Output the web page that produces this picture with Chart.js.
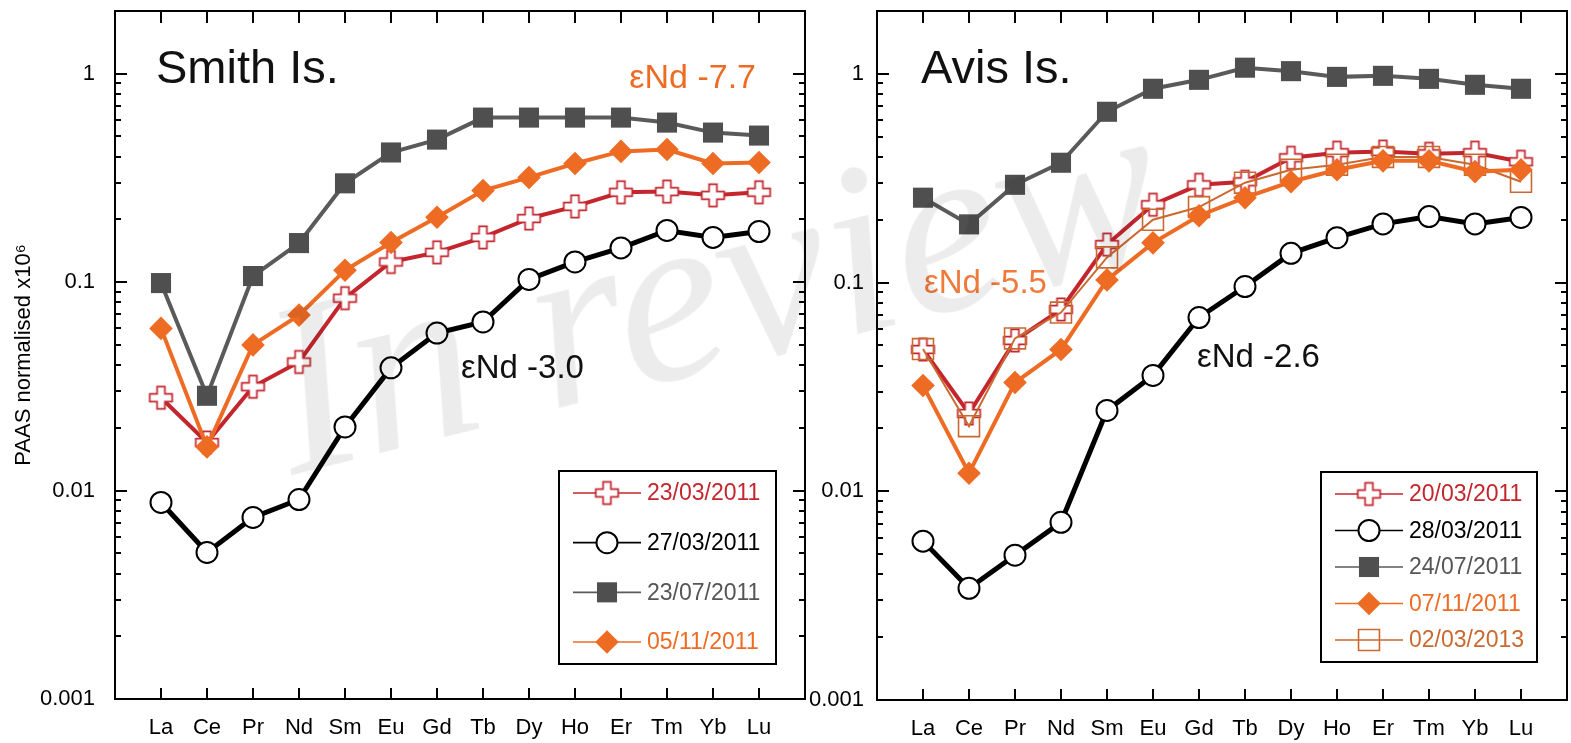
<!DOCTYPE html>
<html>
<head>
<meta charset="utf-8">
<script src="https://cdn.jsdelivr.net/npm/chart.js@4.4.0/dist/chart.umd.min.js"></script>
<style>
  html, body { margin: 0; padding: 0; background: #fff; }
  #wrap { position: relative; width: 1571px; height: 743px; overflow: hidden; }
  canvas { position: absolute; top: 0; }
  #cSmith { left: 0; }
  #cAvis { left: 800px; }
  #wm {
    position: absolute; left: 292px; top: 270px;
    font: italic 245px 'Liberation Serif', 'DejaVu Serif', serif;
    line-height: 245px; white-space: nowrap;
    color: rgba(0, 0, 0, 0.075);
    transform-origin: 0 205px; transform: rotate(-14deg);
    pointer-events: none;
  }
</style>
</head>
<body>
<div id="wrap">
  <canvas id="cSmith" width="810" height="743"></canvas>
  <canvas id="cAvis" width="771" height="743"></canvas>
  <div id="wm">In review</div>
</div>
<script>
'use strict';

/* ── Data ───────────────────────────────────────────────── */
const elements = ['La', 'Ce', 'Pr', 'Nd', 'Sm', 'Eu', 'Gd', 'Tb', 'Dy', 'Ho', 'Er', 'Tm', 'Yb', 'Lu'];
const yTickValues = [0.001, 0.01, 0.1, 1];
const yTickLabels = ['0.001', '0.01', '0.1', '1'];
const yTitle = 'PAAS normalised x10⁶';

// Smith Is.
const smith_23_03_2011 = [0.0279, 0.017, 0.0315, 0.0414, 0.0838, 0.125, 0.139, 0.164, 0.202, 0.231, 0.27, 0.272, 0.261, 0.27];
const smith_27_03_2011 = [0.00877, 0.00505, 0.00743, 0.00906, 0.0202, 0.0388, 0.057, 0.0644, 0.103, 0.125, 0.146, 0.177, 0.164, 0.175];
const smith_23_07_2011 = [0.099, 0.0285, 0.107, 0.154, 0.298, 0.419, 0.483, 0.616, 0.616, 0.616, 0.616, 0.583, 0.522, 0.505];
const smith_05_11_2011 = [0.06, 0.0162, 0.05, 0.0695, 0.114, 0.155, 0.205, 0.275, 0.318, 0.371, 0.424, 0.433, 0.371, 0.375];

// Avis Is.
const avis_20_03_2011 = [0.0478, 0.0236, 0.0528, 0.0743, 0.152, 0.236, 0.294, 0.304, 0.396, 0.419, 0.424, 0.414, 0.419, 0.379];
const avis_28_03_2011 = [0.00577, 0.00343, 0.00494, 0.0071, 0.0244, 0.0359, 0.068, 0.0957, 0.138, 0.164, 0.191, 0.207, 0.191, 0.205];
const avis_24_07_2011 = [0.255, 0.19, 0.294, 0.375, 0.658, 0.848, 0.936, 1.07, 1.03, 0.967, 0.978, 0.946, 0.886, 0.848];
const avis_07_11_2011 = [0.0321, 0.0122, 0.0332, 0.0478, 0.103, 0.155, 0.209, 0.255, 0.304, 0.347, 0.383, 0.383, 0.34, 0.347];
const avis_02_03_2013 = [0.048, 0.0205, 0.054, 0.0718, 0.132, 0.2, 0.23, 0.301, 0.347, 0.367, 0.4, 0.4, 0.367, 0.304];

/* ── Styles ─────────────────────────────────────────────── */
const FONT = "'Liberation Sans', Arial, Helvetica, sans-serif";
const RED = '#c4262e', BLACK = '#000', GREY = '#4f4f4f', GREY_LINE = '#5a5a5a';
const ORANGE = '#ee6b24', BROWN = '#c9692f';

Chart.defaults.font.family = FONT;
Chart.defaults.font.size = 22;
Chart.defaults.color = '#000';

function makeCross(color) {
  const s = 27, c = s / 2, a = 11.2, b = 3.9;
  const cv = document.createElement('canvas');
  cv.width = s; cv.height = s;
  const g = cv.getContext('2d');
  g.beginPath();
  g.moveTo(c - b, c - a); g.lineTo(c + b, c - a); g.lineTo(c + b, c - b);
  g.lineTo(c + a, c - b); g.lineTo(c + a, c + b); g.lineTo(c + b, c + b);
  g.lineTo(c + b, c + a); g.lineTo(c - b, c + a); g.lineTo(c - b, c + b);
  g.lineTo(c - a, c + b); g.lineTo(c - a, c - b); g.lineTo(c - b, c - b);
  g.closePath();
  g.fillStyle = '#fff'; g.fill();
  g.lineWidth = 1.7; g.strokeStyle = color; g.stroke();
  return cv;
}
const crossImg = makeCross(RED);

const pts = vals => vals.map((v, i) => ({ x: i, y: v }));

const sCross = { pointStyle: crossImg, pointRadius: 12, pointBorderWidth: 0, borderColor: RED, borderWidth: 4, pointBackgroundColor: '#fff', pointBorderColor: RED };
const sCircle = { pointStyle: 'circle', pointRadius: 10.5, pointBorderWidth: 2, borderColor: BLACK, borderWidth: 5, pointBackgroundColor: '#fff', pointBorderColor: BLACK };
const sSquare = { pointStyle: 'rect', pointRadius: 14.2, pointBorderWidth: 0, borderColor: GREY_LINE, borderWidth: 4, pointBackgroundColor: GREY, pointBorderColor: GREY };
const sDiamond = { pointStyle: 'rectRot', pointRadius: 11.8, pointBorderWidth: 0, borderColor: ORANGE, borderWidth: 4, pointBackgroundColor: ORANGE, pointBorderColor: ORANGE };
const sOpenSq = { pointStyle: 'rect', pointRadius: 14.8, pointBorderWidth: 1.6, borderColor: BROWN, borderWidth: 2, pointBackgroundColor: 'rgba(0,0,0,0)', pointBorderColor: BROWN };

/* ── Plugins ────────────────────────────────────────────── */
function drawMarker(ctx, st, x, y) {
  ctx.save();
  if (st.pointStyle instanceof HTMLCanvasElement) {
    ctx.drawImage(st.pointStyle, x - st.pointStyle.width / 2, y - st.pointStyle.height / 2);
    ctx.restore();
    return;
  }
  const r = st.pointRadius;
  ctx.beginPath();
  if (st.pointStyle === 'circle') ctx.arc(x, y, r, 0, Math.PI * 2);
  else if (st.pointStyle === 'rect') { const h = r * Math.SQRT1_2; ctx.rect(x - h, y - h, 2 * h, 2 * h); }
  else { ctx.moveTo(x, y - r); ctx.lineTo(x + r, y); ctx.lineTo(x, y + r); ctx.lineTo(x - r, y); ctx.closePath(); }
  ctx.fillStyle = st.pointBackgroundColor; ctx.fill();
  if (st.pointBorderWidth) { ctx.lineWidth = st.pointBorderWidth; ctx.strokeStyle = st.pointBorderColor; ctx.stroke(); }
  ctx.restore();
}

const frameTicks = {
  id: 'frameTicks',
  afterDatasetsDraw(chart) {
    const { ctx, chartArea: { left, right, top, bottom } } = chart;
    const xs = chart.scales.x, ys = chart.scales.y;
    ctx.save();
    ctx.strokeStyle = '#000';
    ctx.lineWidth = 2;
    ctx.beginPath();
    elements.forEach((_, i) => {
      const px = Math.round(xs.getPixelForValue(i));
      ctx.moveTo(px, bottom); ctx.lineTo(px, bottom - 11);
      ctx.moveTo(px, top); ctx.lineTo(px, top + 12);
    });
    for (let d = -3; d <= 0; d++) {
      for (let k = 1; k <= 9; k++) {
        const v = k * Math.pow(10, d);
        if (v <= ys.min * 1.0001 || v >= ys.max) continue;
        const len = k === 1 ? 12 : 6;
        const py = Math.round(ys.getPixelForValue(v));
        ctx.moveTo(left, py); ctx.lineTo(left + len, py);
        ctx.moveTo(right, py); ctx.lineTo(right - len, py);
      }
    }
    ctx.stroke();
    ctx.strokeRect(left, top, right - left, bottom - top);
    ctx.restore();
  }
};

const boxLegend = {
  id: 'boxLegend',
  afterDraw(chart, args, opts) {
    const { ctx, chartArea } = chart;
    const x1 = chartArea.right - opts.dxRight, y1 = chartArea.bottom - opts.dyBottom;
    const x0 = x1 - opts.width, y0 = y1 - opts.height;
    ctx.save();
    ctx.fillStyle = '#fff';
    ctx.fillRect(x0, y0, x1 - x0, y1 - y0);
    ctx.lineWidth = 2; ctx.strokeStyle = '#000';
    ctx.strokeRect(x0, y0, x1 - x0, y1 - y0);
    const n = opts.items.length;
    const step = (opts.height - 44) / (n - 1);
    opts.items.forEach((it, i) => {
      const y = y0 + 22 + i * step;
      ctx.beginPath();
      ctx.moveTo(x0 + 14, y); ctx.lineTo(x0 + 82, y);
      ctx.lineWidth = 1.6; ctx.strokeStyle = it.style.borderColor; ctx.stroke();
      drawMarker(ctx, it.style, x0 + 48, y);
      ctx.font = '23px ' + FONT;
      ctx.textBaseline = 'middle'; ctx.textAlign = 'left';
      ctx.fillStyle = it.color;
      ctx.fillText(it.label, x0 + 88, y + 1);
    });
    ctx.restore();
  }
};

const panelText = {
  id: 'panelText',
  afterDraw(chart, args, opts) {
    const { ctx } = chart;
    ctx.save();
    ctx.textBaseline = 'alphabetic';
    opts.items.forEach(t => {
      ctx.font = t.size + 'px ' + FONT;
      ctx.fillStyle = t.color;
      ctx.textAlign = t.align || 'left';
      ctx.fillText(t.text, t.x, t.y);
    });
    ctx.restore();
  }
};

function noMargins(s) {
  s.paddingTop = 0; s.paddingBottom = 0; s.paddingLeft = 0; s.paddingRight = 0;
}

/* ── Charts ─────────────────────────────────────────────── */
function makePanel(id, series, cfg) {
  return new Chart(document.getElementById(id), {
    type: 'line',
    data: {
      datasets: series.map(s => ({
        label: s.label, data: pts(s.values), order: s.order,
        tension: 0, fill: false, ...s.style
      }))
    },
    options: {
      responsive: false,
      animation: false,
      events: [],
      devicePixelRatio: 1,
      layout: { autoPadding: false, padding: { left: 0, top: 11, right: cfg.padRight, bottom: 0 } },
      plugins: {
        legend: { display: false },
        tooltip: { enabled: false },
        boxLegend: cfg.legend,
        panelText: { items: cfg.texts }
      },
      scales: {
        x: {
          type: 'linear', min: -1, max: 14,
          grid: { display: false, drawTicks: false },
          border: { display: false },
          ticks: {
            stepSize: 1, autoSkip: false, maxRotation: 0, padding: 16,
            callback: v => elements[v] || ''
          },
          afterFit: s => { s.height = cfg.xHeight; noMargins(s); }
        },
        y: {
          type: 'logarithmic', min: 0.001, max: 2,
          grid: { display: false, drawTicks: false },
          border: { display: false },
          ticks: {
            padding: cfg.yPad, autoSkip: false,
            callback: v => {
              const i = yTickValues.findIndex(d => Math.abs(v / d - 1) < 1e-6);
              return i >= 0 ? yTickLabels[i] : '';
            }
          },
          title: cfg.yTitle
            ? { display: true, text: yTitle, font: { size: 22 }, padding: { top: 11, bottom: 0 } }
            : { display: false },
          afterFit: s => { s.width = cfg.yWidth; noMargins(s); }
        }
      }
    },
    plugins: [frameTicks, boxLegend, panelText]
  });
}

makePanel('cSmith', [
  { label: '23/03/2011', values: smith_23_03_2011, style: sCross, order: 2 },
  { label: '27/03/2011', values: smith_27_03_2011, style: sCircle, order: 3 },
  { label: '23/07/2011', values: smith_23_07_2011, style: sSquare, order: 4 },
  { label: '05/11/2011', values: smith_05_11_2011, style: sDiamond, order: 1 }
], {
  padRight: 5, xHeight: 44, yWidth: 115, yPad: 20, yTitle: true,
  legend: {
    dxRight: 29, dyBottom: 35, width: 217, height: 193,
    items: [
      { label: '23/03/2011', style: sCross, color: RED },
      { label: '27/03/2011', style: sCircle, color: BLACK },
      { label: '23/07/2011', style: sSquare, color: '#555' },
      { label: '05/11/2011', style: sDiamond, color: ORANGE }
    ]
  },
  texts: [
    { text: 'Smith Is.', x: 156, y: 83, size: 47, color: '#111' },
    { text: 'εNd -7.7', x: 756, y: 88, size: 34, color: ORANGE, align: 'right' },
    { text: 'εNd -3.0', x: 461, y: 378, size: 33, color: '#111' }
  ]
});

makePanel('cAvis', [
  { label: '20/03/2011', values: avis_20_03_2011, style: sCross, order: 3 },
  { label: '28/03/2011', values: avis_28_03_2011, style: sCircle, order: 4 },
  { label: '24/07/2011', values: avis_24_07_2011, style: sSquare, order: 5 },
  { label: '07/11/2011', values: avis_07_11_2011, style: sDiamond, order: 1 },
  { label: '02/03/2013', values: avis_02_03_2013, style: sOpenSq, order: 2 }
], {
  padRight: 4, xHeight: 43, yWidth: 77, yPad: 13, yTitle: false,
  legend: {
    dxRight: 30, dyBottom: 38, width: 216, height: 190,
    items: [
      { label: '20/03/2011', style: sCross, color: RED },
      { label: '28/03/2011', style: sCircle, color: BLACK },
      { label: '24/07/2011', style: sSquare, color: '#555' },
      { label: '07/11/2011', style: sDiamond, color: ORANGE },
      { label: '02/03/2013', style: sOpenSq, color: BROWN }
    ]
  },
  texts: [
    { text: 'Avis Is.', x: 121, y: 83, size: 47, color: '#111' },
    { text: 'εNd -5.5', x: 124, y: 293, size: 33, color: '#ef7a3b' },
    { text: 'εNd -2.6', x: 397, y: 367, size: 33, color: '#111' }
  ]
});
</script>
</body>
</html>
